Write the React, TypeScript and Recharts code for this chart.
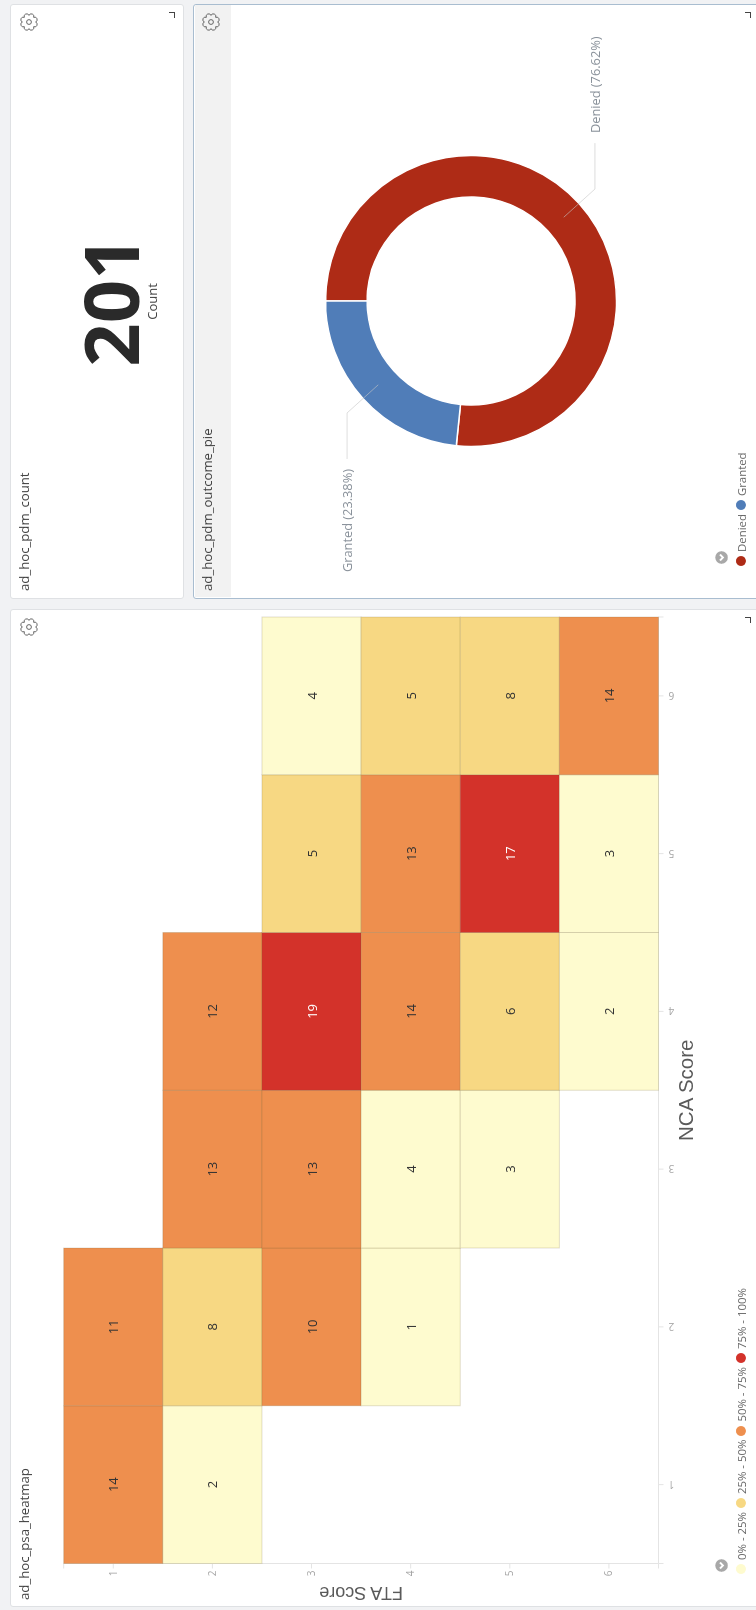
import {
  Label,
  Pie,
  PieChart,
  Cell,
  Scatter,
  ScatterChart,
  XAxis,
  YAxis,
} from "recharts";

// heatmap counts, one list per FTA score, one slot per NCA score
const ncaScores = [1, 2, 3, 4, 5, 6];
const fta1Counts = [14, 11, null, null, null, null];
const fta2Counts = [2, 8, 13, 12, null, null];
const fta3Counts = [null, 10, 13, 19, 5, 4];
const fta4Counts = [null, 1, 4, 14, 13, 5];
const fta5Counts = [null, null, 3, 6, 17, 8];
const fta6Counts = [null, null, null, 2, 3, 14];
const ftaRows = [fta1Counts, fta2Counts, fta3Counts, fta4Counts, fta5Counts, fta6Counts];

const axisTicks = [0.5, 1, 2, 3, 4, 5, 6, 6.5];

const rangeLabels = ["0% - 25%", "25% - 50%", "50% - 75%", "75% - 100%"];
const rangeColors = ["#fefbcf", "#f7d883", "#ee8f4e", "#d3322a"];

const outcomeNames = ["Denied", "Granted"];
const outcomeValues = [154, 47];
const outcomeColors = ["#ae2b16", "#507db8"];

const totalCount = 201;

const HEAT_W = 1000;
const HEAT_H = 756;
const PLOT = { left: 46.5, right: 993, top: 63.7, bottom: 658.5 };
const CELL_W = (PLOT.right - PLOT.left) / 6;
const CELL_H = (PLOT.bottom - PLOT.top) / 6;

const maxCount = Math.max(...ftaRows.flat().map((v) => v ?? 0));

const heatCells = ftaRows.flatMap((row, r) =>
  row.flatMap((count, c) =>
    count === null ? [] : [{ nca: ncaScores[c], fta: r + 1, count }]
  )
);

const bucketFor = (count: number) =>
  Math.min(3, Math.floor((count / maxCount) * 4));

const outcomes = outcomeNames.map((name, i) => ({ name, value: outcomeValues[i] }));

const HeatCell = (props: any) => {
  const { cx, cy, payload } = props;
  const bucket = bucketFor(payload.count);
  return (
    <g>
      <rect
        x={cx - CELL_W / 2}
        y={cy - CELL_H / 2}
        width={CELL_W}
        height={CELL_H}
        fill={rangeColors[bucket]}
        stroke="rgba(110,95,50,0.2)"
        strokeWidth={1}
      />
      <text
        x={cx}
        y={cy}
        textAnchor="middle"
        dominantBaseline="central"
        fontSize={13}
        fill={bucket === 3 ? "#ffffff" : "#333333"}
      >
        {payload.count}
      </text>
    </g>
  );
};

// x labels stand on end, the way the dashboard rotates them
const RotatedTick = (props: any) => {
  const { x, y, payload } = props;
  if (!Number.isInteger(payload.value)) return null;
  const cy = y + 6;
  return (
    <text
      x={x}
      y={cy}
      transform={`rotate(-90 ${x} ${cy})`}
      textAnchor="middle"
      dominantBaseline="central"
      fontSize={10}
      fill="#a6a6a6"
    >
      {payload.value}
    </text>
  );
};

// slice label with a bent leader line
const OutcomeLabel = (props: any) => {
  const { cx, cy, midAngle, name, percent } = props;
  const rad = (midAngle * Math.PI) / 180;
  const dirX = Math.cos(rad);
  const dirY = -Math.sin(rad);
  const side = dirX >= 0 ? 1 : -1;
  const elbowX = cx + 167 * dirX;
  const elbowY = cy + 167 * dirY;
  const points = [
    `${cx + 125 * dirX},${cy + 125 * dirY}`,
    `${elbowX},${elbowY}`,
    `${elbowX + side * 46},${elbowY}`,
  ].join(" ");
  return (
    <g>
      <polyline points={points} fill="none" stroke="#c6c6c6" strokeOpacity={0.6} strokeWidth={1} />
      <text
        x={elbowX + side * 56}
        y={elbowY}
        textAnchor={side > 0 ? "start" : "end"}
        dominantBaseline="central"
        fontSize={12.8}
        fill="#8a929b"
      >
        {`${name} (${(percent * 100).toFixed(2)}%)`}
      </text>
    </g>
  );
};

// scalloped outline for the settings gear
const gearPath = (() => {
  const lobes = 8;
  const r = 6.6;
  const pts = Array.from({ length: lobes }, (_, i) => {
    const a = (i / lobes) * Math.PI * 2;
    return [9 + r * Math.cos(a), 9 + r * Math.sin(a)];
  });
  const arcs = pts
    .slice(1)
    .concat([pts[0]])
    .map((p) => `A2.1 2.1 0 0 1 ${p[0].toFixed(2)} ${p[1].toFixed(2)}`);
  return `M${pts[0][0].toFixed(2)} ${pts[0][1].toFixed(2)} ${arcs.join(" ")}Z`;
})();

const GearIcon = ({ left, top }: { left: number; top: number }) => (
  <svg
    width={18}
    height={18}
    viewBox="0 0 18 18"
    style={{ position: "absolute", left: left - 9, top: top - 9 }}
  >
    <path d={gearPath} fill="none" stroke="#555" strokeWidth={0.9} />
    <circle cx={9} cy={9} r={2.4} fill="none" stroke="#555" strokeWidth={0.9} />
  </svg>
);

const ResizeMark = ({ right, bottom }: { right: number; bottom: number }) => (
  <div
    style={{
      position: "absolute",
      left: right - 6,
      top: bottom - 6,
      width: 5,
      height: 5,
      borderRight: "1.5px solid #444",
      borderBottom: "1.5px solid #444",
    }}
  />
);

const LegendToggle = ({ left, top }: { left: number; top: number }) => (
  <svg
    width={13}
    height={13}
    viewBox="0 0 13 13"
    style={{ position: "absolute", left: left - 6.5, top: top - 6.5 }}
  >
    <circle cx={6.5} cy={6.5} r={6.3} fill="#a8a8a8" />
    <polyline points="3.5,5 6.5,8 9.5,5" fill="none" stroke="#fff" strokeWidth={1.8} />
  </svg>
);

const LegendRow = ({
  left,
  top,
  labels,
  colors,
}: {
  left: number;
  top: number;
  labels: string[];
  colors: string[];
}) => (
  <div
    style={{
      position: "absolute",
      left,
      top,
      height: 16,
      display: "flex",
      alignItems: "center",
      fontSize: 11.4,
      color: "#666",
      whiteSpace: "nowrap",
    }}
  >
    {labels.map((label, i) => (
      <span key={label} style={{ display: "flex", alignItems: "center", marginRight: 4 }}>
        <span
          style={{
            width: 10,
            height: 10,
            borderRadius: 5,
            background: colors[i],
            marginRight: 4,
          }}
        />
        {label}
      </span>
    ))}
  </div>
);

const PanelTitle = ({ left, top, children }: { left: number; top: number; children: string }) => (
  <div
    style={{
      position: "absolute",
      left,
      top,
      fontSize: 13.2,
      lineHeight: "18px",
      color: "#444",
      whiteSpace: "nowrap",
    }}
  >
    {children}
  </div>
);

const panelStyle = {
  position: "absolute" as const,
  background: "#fff",
  border: "1px solid #dfe1e4",
  borderRadius: 3,
  boxSizing: "border-box" as const,
};

const tickStyle = { fontSize: 10, fill: "#a6a6a6" };
const axisLine = { stroke: "#e4e4e4" };

export default function App() {
  return (
    <div
      style={{
        position: "fixed",
        left: 0,
        top: 1610,
        width: 1610,
        height: 756,
        overflow: "hidden",
        background: "#f1f2f4",
        transform: "rotate(-90deg)",
        transformOrigin: "0 0",
        fontFamily: '"Open Sans", sans-serif',
      }}
    >
      {/* heatmap panel */}
      <div style={{ ...panelStyle, left: 3, top: 10, width: 998, height: 760 }} />
      <ScatterChart
        width={HEAT_W}
        height={HEAT_H}
        margin={{
          left: PLOT.left - 40,
          right: HEAT_W - PLOT.right,
          top: PLOT.top,
          bottom: HEAT_H - PLOT.bottom - 50,
        }}
        style={{ position: "absolute", left: 0, top: 0 }}
      >
        <XAxis
          type="number"
          dataKey="nca"
          domain={[0.5, 6.5]}
          ticks={axisTicks}
          interval={0}
          height={50}
          tickSize={5}
          tick={RotatedTick}
          axisLine={axisLine}
          tickLine={axisLine}
        >
          <Label
            value="NCA Score"
            position="insideBottom"
            offset={16}
            style={{ fontFamily: '"Liberation Sans"', fontSize: 20.5, fill: "#5a5a5a" }}
          />
        </XAxis>
        <YAxis
          type="number"
          dataKey="fta"
          reversed
          domain={[0.5, 6.5]}
          ticks={axisTicks}
          interval={0}
          width={40}
          tickSize={5}
          tick={tickStyle}
          tickFormatter={(v) => (Number.isInteger(v) ? String(v) : "")}
          axisLine={axisLine}
          tickLine={axisLine}
        >
          <Label
            value="FTA Score"
            angle={-90}
            position="insideLeft"
            offset={10}
            style={{ fontFamily: '"Liberation Sans"', fontSize: 18, fill: "#5a5a5a", textAnchor: "middle" }}
          />
        </YAxis>
        <Scatter data={heatCells} shape={HeatCell} isAnimationActive={false} />
      </ScatterChart>
      <PanelTitle left={10} top={15}>ad_hoc_psa_heatmap</PanelTitle>
      <GearIcon left={983} top={29} />
      <ResizeMark right={993} bottom={751} />
      <LegendToggle left={44} top={721} />
      <LegendRow left={36} top={733} labels={rangeLabels} colors={rangeColors} />

      {/* count panel */}
      <div style={{ ...panelStyle, left: 1011, top: 10, width: 595, height: 174 }} />
      <PanelTitle left={1019} top={15}>ad_hoc_pdm_count</PanelTitle>
      <GearIcon left={1588} top={29} />
      <ResizeMark right={1598} bottom={175} />
      <div
        style={{
          position: "absolute",
          left: 1011,
          width: 595,
          top: 64,
          textAlign: "center",
          fontSize: 76,
          lineHeight: "92px",
          fontWeight: 700,
          color: "#2a2a2a",
        }}
      >
        {totalCount}
      </div>
      <div
        style={{
          position: "absolute",
          left: 1011,
          width: 595,
          top: 143,
          textAlign: "center",
          fontSize: 13,
          lineHeight: "18px",
          color: "#444",
        }}
      >
        Count
      </div>

      {/* outcome pie panel */}
      <div
        style={{
          ...panelStyle,
          left: 1011,
          top: 193,
          width: 595,
          height: 580,
          border: "1.5px solid #a9bdd0",
        }}
      />
      <div style={{ position: "absolute", left: 1012.5, top: 194.5, width: 592, height: 36, background: "#f2f2f2" }} />
      <PieChart
        width={595}
        height={563}
        margin={{ top: 0, right: 0, bottom: 0, left: 0 }}
        style={{ position: "absolute", left: 1011, top: 193 }}
      >
        <Pie
          data={outcomes}
          dataKey="value"
          nameKey="name"
          cx={298}
          cy={278}
          innerRadius={104}
          outerRadius={145.5}
          startAngle={90}
          endAngle={-270}
          stroke="#ffffff"
          strokeWidth={1.5}
          labelLine={false}
          label={OutcomeLabel}
          isAnimationActive={false}
        >
          {outcomes.map((entry, i) => (
            <Cell key={entry.name} fill={outcomeColors[i]} />
          ))}
        </Pie>
      </PieChart>
      <PanelTitle left={1019} top={198}>ad_hoc_pdm_outcome_pie</PanelTitle>
      <GearIcon left={1588} top={211} />
      <ResizeMark right={1598} bottom={751} />
      <LegendToggle left={1052} top={721} />
      <LegendRow left={1044} top={733} labels={outcomeNames} colors={outcomeColors} />
    </div>
  );
}
